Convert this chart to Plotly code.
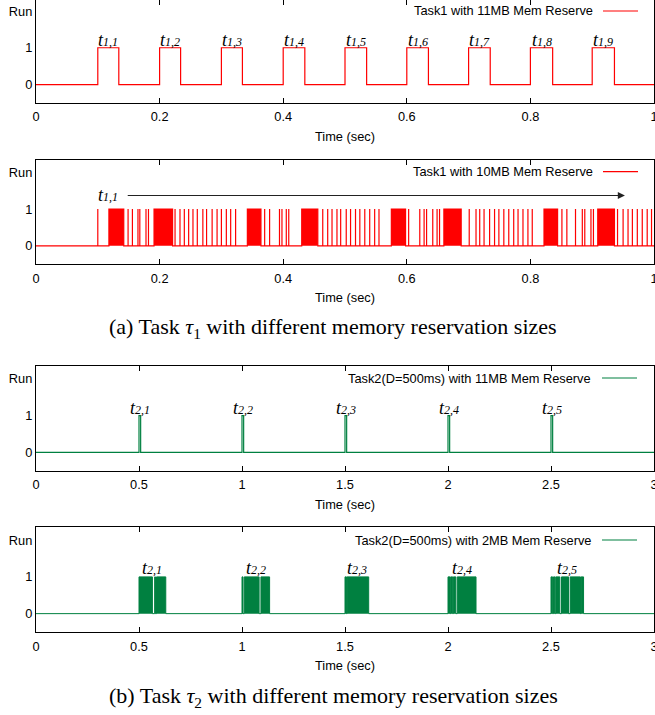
import plotly.graph_objects as go

W, H = 655, 715

# ---------------- data ----------------
# (a) top: Task1 with 11MB memory reserve -> run intervals (sec)
a1_start = [0.100, 0.200, 0.300, 0.400, 0.500, 0.600, 0.700, 0.800, 0.900]
a1_end   = [0.134, 0.234, 0.334, 0.435, 0.535, 0.635, 0.735, 0.836, 0.936]
a1_labels = ["1,1", "1,2", "1,3", "1,4", "1,5", "1,6", "1,7", "1,8", "1,9"]

# (a) bottom: Task1 with 10MB memory reserve -> dense bursts + isolated runs
a2_burst_start = [0.118, 0.191, 0.342, 0.430, 0.575, 0.660, 0.822, 0.909]
a2_burst_end   = [0.142, 0.221, 0.364, 0.456, 0.598, 0.688, 0.844, 0.936]
a2_spikes = [0.100, 0.149, 0.156, 0.165, 0.168, 0.178, 0.182,
             0.225, 0.233, 0.240, 0.247, 0.254, 0.261, 0.270, 0.276, 0.285,
             0.293, 0.300, 0.308, 0.315, 0.323, 0.370, 0.378, 0.394, 0.398,
             0.405, 0.409, 0.464, 0.472, 0.479, 0.487, 0.493, 0.502, 0.509,
             0.517, 0.524, 0.532, 0.540, 0.548, 0.555, 0.603, 0.621, 0.628,
             0.632, 0.642, 0.649, 0.653, 0.701, 0.712, 0.718, 0.725, 0.734,
             0.742, 0.749, 0.757, 0.765, 0.773, 0.780, 0.788, 0.796, 0.803,
             0.851, 0.859, 0.873, 0.884, 0.888, 0.898, 0.902, 0.941, 0.950,
             0.958, 0.965, 0.973, 0.981, 0.989, 0.996]

# (b) top: Task2 (D=500ms) with 11MB memory reserve
b1_start = [0.500, 1.000, 1.500, 2.000, 2.500]
b1_end   = [0.508, 1.008, 1.508, 2.008, 2.508]
b1_labels = ["2,1", "2,2", "2,3", "2,4", "2,5"]

# (b) bottom: Task2 (D=500ms) with 2MB memory reserve
b2_start = [0.500, 0.576, 0.585,
            1.000, 1.011, 1.092,
            1.500, 1.510,
            2.000, 2.013, 2.026, 2.045,
            2.500, 2.512, 2.523, 2.551, 2.593, 2.646]
b2_end   = [0.565, 0.580, 0.630,
            1.005, 1.083, 1.134,
            1.507, 1.615,
            2.010, 2.023, 2.038, 2.136,
            2.508, 2.519, 2.543, 2.585, 2.643, 2.658]
b2_job_start = [0.500, 1.000, 1.500, 2.000, 2.500]
b2_job_end   = [0.630, 1.134, 1.615, 2.136, 2.658]

x_ticks_a = [0, 0.2, 0.4, 0.6, 0.8, 1]
x_tick_text_a = ["0", "0.2", "0.4", "0.6", "0.8", "1"]
x_ticks_b = [0, 0.5, 1, 1.5, 2, 2.5, 3]
x_tick_text_b = ["0", "0.5", "1", "1.5", "2", "2.5", "3"]
y_ticks = [0, 1, 2]
y_tick_text = ["0", "1", "Run"]

RED = "#ff0000"
GREEN = "#008040"


def step_xy(starts, ends, xmax):
    xs, ys = [0.0], [0]
    for s, e in sorted(zip(starts, ends)):
        xs += [s, s, e, e]
        ys += [0, 1, 1, 0]
    xs.append(xmax)
    ys.append(0)
    return xs, ys


def job_label(idx):
    return ("<i>t</i><span style='font-size:12px'><i>%s</i></span>" % idx)


fig = go.Figure()

# panel pixel geometry (top, bottom of plotting area)
panels = [(0.0, 102.9), (159.5, 264.2), (366.0, 470.7), (527.3, 632.0)]
yranges = [[-0.5, 2.3], [-0.5, 2.35], [-0.5, 2.35], [-0.5, 2.35]]

# traces
xs, ys = step_xy(a1_start, a1_end, 1.0)
fig.add_trace(go.Scatter(x=xs, y=ys, mode="lines", line=dict(color=RED, width=1.2),
                         xaxis="x", yaxis="y", showlegend=False, hoverinfo="skip"))

xs, ys = step_xy(a2_burst_start + a2_spikes, a2_burst_end + a2_spikes, 1.0)
fig.add_trace(go.Scatter(x=xs, y=ys, mode="lines", line=dict(color=RED, width=1.2),
                         fill="tozeroy", fillcolor=RED,
                         xaxis="x2", yaxis="y2", showlegend=False, hoverinfo="skip"))

xs, ys = step_xy(b1_start, b1_end, 3.0)
fig.add_trace(go.Scatter(x=xs, y=ys, mode="lines", line=dict(color=GREEN, width=1.2),
                         xaxis="x3", yaxis="y3", showlegend=False, hoverinfo="skip"))

xs, ys = step_xy(b2_start, b2_end, 3.0)
fig.add_trace(go.Scatter(x=xs, y=ys, mode="lines", line=dict(color=GREEN, width=1.0),
                         fill="tozeroy", fillcolor=GREEN,
                         xaxis="x4", yaxis="y4", showlegend=False, hoverinfo="skip"))

tickfont = dict(family="Liberation Sans, Arial, sans-serif", size=12.8, color="#000")
layout = dict(width=W, height=H, margin=dict(l=0, r=0, t=0, b=0, pad=0, autoexpand=False),
              paper_bgcolor="white", plot_bgcolor="white", showlegend=False)

for i, (top, bot) in enumerate(panels):
    n = "" if i == 0 else str(i + 1)
    dom_y = [1 - bot / H, 1 - top / H]
    is_a = i < 2
    layout["xaxis" + n] = dict(
        domain=[36 / W, 654 / W], anchor="y" + n,
        range=[0, 1] if is_a else [0, 3],
        tickvals=x_ticks_a if is_a else x_ticks_b,
        ticktext=x_tick_text_a if is_a else x_tick_text_b,
        ticks="inside", ticklen=5, tickwidth=1, tickcolor="#000",
        mirror="ticks", showline=True, linecolor="#000", linewidth=1.3,
        showgrid=False, zeroline=False, tickfont=tickfont,
        ticklabeloverflow="allow", automargin=False, ticklabelstandoff=2,
        title=dict(text="Time (sec)", font=tickfont, standoff=8),
    )
    layout["yaxis" + n] = dict(
        domain=dom_y, anchor="x" + n, range=yranges[i],
        tickvals=y_ticks, ticktext=y_tick_text, ticks="",
        mirror=True, showline=True, linecolor="#000", linewidth=1.3,
        showgrid=False, zeroline=False, tickfont=tickfont, automargin=False,
    )

fig.update_layout(**layout)

ann = []
label_font = dict(family="Liberation Serif, Times New Roman, serif", size=18, color="#000")
for s, e, lab in zip(a1_start, a1_end, a1_labels):
    ann.append(dict(x=(s + e) / 2, y=1.2, xref="x", yref="y", text=job_label(lab),
                    showarrow=False, font=label_font, xanchor="center", yanchor="middle"))
for s, e, lab in zip(b1_start, b1_end, b1_labels):
    ann.append(dict(x=(s + e) / 2, y=1.2, xref="x3", yref="y3", text=job_label(lab),
                    showarrow=False, font=label_font, xanchor="center", yanchor="middle"))
for s, e, lab in zip(b2_job_start, b2_job_end, b1_labels):
    ann.append(dict(x=(s + e) / 2, y=1.25, xref="x4", yref="y4", text=job_label(lab),
                    showarrow=False, font=label_font, xanchor="center", yanchor="middle"))

# long-running job arrow in panel 2
ann.append(dict(x=0.116, y=1.38, xref="x2", yref="y2", text=job_label("1,1"),
                showarrow=False, font=label_font, xanchor="center", yanchor="middle"))
ann.append(dict(x=0.953, y=1.37, ax=0.146, ay=1.37, xref="x2", yref="y2", axref="x2", ayref="y2",
                text="", showarrow=True, arrowhead=2, arrowsize=1.3, arrowwidth=1.1, arrowcolor="#222"))

# key entries (gnuplot style: text then line sample)
keys = [("Task1 with 11MB Mem Reserve", 595, 603, 638, 11, RED),
        ("Task1 with 10MB Mem Reserve", 595, 603, 638, 171.7, RED),
        ("Task2(D=500ms) with 11MB Mem Reserve", 593, 602, 637, 378, GREEN),
        ("Task2(D=500ms) with 2MB Mem Reserve", 593, 602, 637, 540, GREEN)]
shapes = []
for text, xr, l0, l1, yc, col in keys:
    ann.append(dict(x=xr / W, y=1 - yc / H, xref="paper", yref="paper", text=text,
                    showarrow=False, font=tickfont, xanchor="right", yanchor="middle"))
    shapes.append(dict(type="line", xref="paper", yref="paper", x0=l0 / W, x1=l1 / W,
                       y0=1 - yc / H, y1=1 - yc / H, line=dict(color=col, width=1.2)))

cap_font = dict(family="Liberation Serif, Times New Roman, serif", size=22, color="#000")
ann.append(dict(x=333 / W, y=1 - 328 / H, xref="paper", yref="paper",
                text="(a) Task <i>τ</i><sub>1</sub> with different memory reservation sizes",
                showarrow=False, font=cap_font, xanchor="center", yanchor="middle"))
ann.append(dict(x=333 / W, y=1 - 697 / H, xref="paper", yref="paper",
                text="(b) Task <i>τ</i><sub>2</sub> with different memory reservation sizes",
                showarrow=False, font=cap_font, xanchor="center", yanchor="middle"))

fig.update_layout(annotations=ann, shapes=shapes)
fig.write_html("out.html", config={"displayModeBar": False},
               post_script="document.body.style.margin='0px';")
